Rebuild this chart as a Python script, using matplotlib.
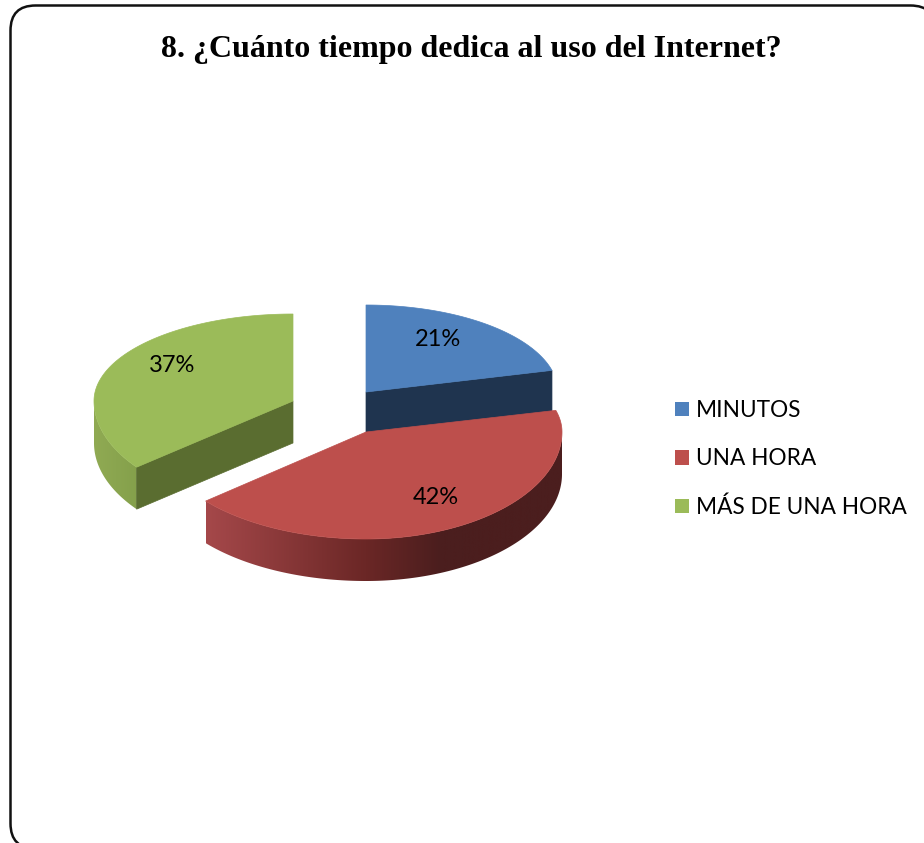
import numpy as np
import matplotlib
matplotlib.use("Agg")
import matplotlib.pyplot as plt
from matplotlib.colors import to_rgb
from matplotlib.patches import FancyBboxPatch, Patch, Polygon

TITLE = "8. ¿Cuánto tiempo dedica al uso del Internet?"
categories = ["MINUTOS", "UNA HORA", "MÁS DE UNA HORA"]
values = [21, 42, 37]

top_colors = ["#4f81bd", "#bd4f4c", "#9bbb59"]
cut_colors = ["#1f344f", "#4a1e1e", "#5a6d30"]

# slice centres in pixels (each slice is pulled apart)
centers = [(366, 392), (366, 432), (293, 401)]
# horizontal radius right and left of the centre, the 3D view is not a clean ellipse
radii = [(192, 192), (196, 210), (199, 199)]
# how much the view stretches angles on the front half
warps = [5, 3, 5]
RY_BACK = 87
RY_FRONT = 107
DEPTH = 42


def arc(i, theta):
    theta = np.asarray(theta, dtype=float)
    t = np.radians(theta - np.where(theta < 0, warps[i] * np.sin(np.radians(2 * theta)), 0))
    rx = np.where(np.cos(t) > 0, radii[i][0], radii[i][1])
    ry = np.where(np.sin(t) > 0, RY_BACK, RY_FRONT)
    return centers[i][0] + rx * np.cos(t), centers[i][1] - ry * np.sin(t)


def top_face(ax, i, start, end, zorder):
    x, y = arc(i, np.linspace(start, end, 200))
    ax.fill(np.r_[centers[i][0], x], np.r_[centers[i][1], y], color=top_colors[i], lw=0.5, zorder=zorder)


def outer_wall(ax, i, start, end, colors, stops, zorder):
    # gradient image clipped to the wall outline, colour follows x
    x, y = arc(i, np.linspace(start, end, 300))
    outline = np.c_[np.r_[x, x[::-1]], np.r_[y, y[::-1] + DEPTH]]
    rgb = np.array([to_rgb(c) for c in colors])
    xs = np.linspace(x.min(), x.max(), 400)
    grad = np.stack([np.interp(xs, stops, rgb[:, k]) for k in range(3)], axis=-1)[None, :, :]
    im = ax.imshow(grad, extent=(x.min(), x.max(), y.max() + DEPTH, y.min()), aspect="auto", zorder=zorder)
    clip = Polygon(outline, closed=True, transform=ax.transData, fc="none", ec="none")
    ax.add_patch(clip)
    im.set_clip_path(clip)


def cut_wall(ax, i, theta, zorder):
    x, y = arc(i, [theta])
    cx, cy = centers[i]
    ax.fill([cx, x[0], x[0], cx], [cy, y[0], y[0] + DEPTH, cy + DEPTH],
            color=cut_colors[i], lw=0.5, zorder=zorder)


fig = plt.figure(figsize=(9.24, 8.43), dpi=100)
ax = fig.add_axes([0, 0, 1, 1])

# rounded frame, runs off the right and bottom of the picture
ax.add_patch(FancyBboxPatch((35.5, 30.5), 875, 793, boxstyle="round,pad=25,rounding_size=25",
                            fc="white", ec="#111111", lw=1.8, zorder=0))

ax.text(471, 50, TITLE, family="Liberation Serif", weight="bold", fontsize=23,
        ha="center", va="center", color="black", zorder=10)

# slice angles, clockwise from the top
edges = 90 - np.cumsum([0] + values) * 3.6

# green sits at the back left
outer_wall(ax, 2, edges[2], -180, ["#90aa53", "#84a04b"], [94, 138], 1)
cut_wall(ax, 2, edges[2], 2)
top_face(ax, 2, edges[2], -270, 3)

# blue
cut_wall(ax, 0, edges[1], 2)
top_face(ax, 0, edges[0], edges[1], 3)

# red in front
outer_wall(ax, 1, edges[2], 0, ["#a5484a", "#6b2726", "#4b1e1e", "#4b1e1e"], [206, 365, 440, 562], 4)
top_face(ax, 1, edges[1], edges[2], 5)

pct_labels = [f"{v}%" for v in values]
label_pos = [(438, 340), (436, 498), (172, 366)]
for txt, (lx, ly) in zip(pct_labels, label_pos):
    ax.text(lx, ly, txt, family="Lato", fontsize=17, ha="center", va="center",
            color="black", zorder=10)

ax.set_xlim(0, 924)
ax.set_ylim(843, 0)
ax.axis("off")

handles = [Patch(facecolor=c, edgecolor="none") for c in top_colors]
leg = ax.legend(handles, categories, loc="center left", bbox_to_anchor=(675 / 924, 1 - 459 / 843),
                frameon=False, prop={"family": "Lato", "size": 16.3},
                handlelength=0.62, handleheight=0.62, handletextpad=0.3,
                labelspacing=1.2, borderpad=0, borderaxespad=0)
leg.set_zorder(10)

fig.savefig("out.png", dpi=100)
